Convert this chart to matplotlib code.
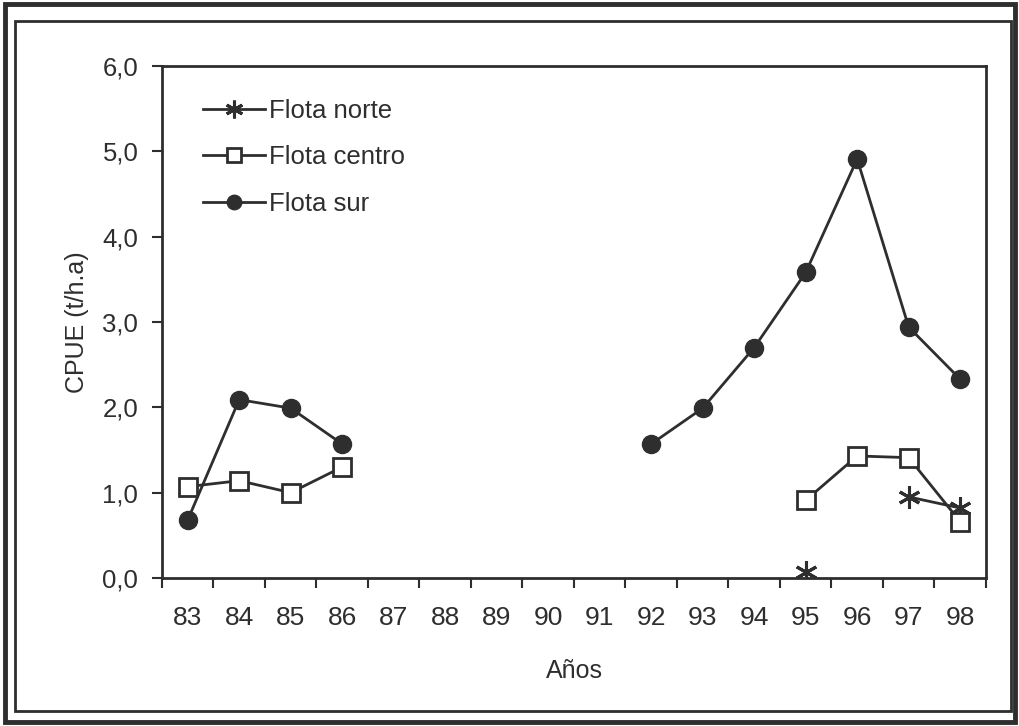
import numpy as np
import matplotlib.pyplot as plt
from matplotlib.patches import Rectangle

# Data (NaN = no data)
years = ['83', '84', '85', '86', '87', '88', '89', '90', '91', '92', '93', '94', '95', '96', '97', '98']
flota_norte = [np.nan] * 12 + [0.07, np.nan, 0.95, 0.82]
flota_centro = [1.07, 1.14, 1.00, 1.30] + [np.nan] * 8 + [0.91, 1.43, 1.41, 0.66]
flota_sur = [0.68, 2.09, 1.99, 1.57] + [np.nan] * 5 + [1.57, 1.99, 2.70, 3.58, 4.91, 2.94, 2.33]

ink = '#2e2e2e'
plt.rcParams['font.family'] = ['Liberation Sans', 'DejaVu Sans']

fig = plt.figure(figsize=(10.2, 7.26), dpi=100)
ax = fig.add_axes([0.1588, 0.2039, 0.8078, 0.7052])

x = np.arange(len(years))
ax.plot(x, flota_norte, color=ink, linewidth=2, marker=(6, 2, 0), markersize=16,
        markeredgewidth=2.2, label='Flota norte')
ax.plot(x, flota_centro, color=ink, linewidth=2, marker='s', markersize=12.5,
        markerfacecolor='white', markeredgecolor=ink, markeredgewidth=2, label='Flota centro')
ax.plot(x, flota_sur, color=ink, linewidth=2, marker='o', markersize=13,
        markerfacecolor=ink, markeredgecolor=ink, label='Flota sur')

ax.set_xlim(-0.5, len(years) - 0.5)
ax.set_ylim(0, 6)
ax.set_xticks(x)
ax.set_xticklabels(years)
ax.set_xticks(np.arange(-0.5, len(years), 1.0), minor=True)
ax.tick_params(axis='x', which='major', length=0, pad=20, labelsize=19, labelcolor=ink)
ax.tick_params(axis='x', which='minor', length=7, width=1.5, color=ink)
ax.set_yticks(np.arange(0, 7, 1))
ax.set_yticklabels([f'{v:.1f}'.replace('.', ',') for v in np.arange(0, 7, 1)])
ax.tick_params(axis='y', length=7, width=1.5, color=ink, pad=10, labelsize=18.5, labelcolor=ink)

for s in ax.spines.values():
    s.set_color(ink)
    s.set_linewidth(2)

ax.set_ylabel('CPUE (t/h.a)', fontsize=18, color=ink, labelpad=10)
ax.set_xlabel('Años', fontsize=18, color=ink, labelpad=21)

ax.legend(loc='upper left', bbox_to_anchor=(0.022, 0.98), frameon=False, fontsize=18.5,
          handlelength=2.4, handletextpad=0.15, labelspacing=0.86, labelcolor=ink,
          markerscale=0.8)

# Scanned double frame around the figure
W, H = 1020, 726
fig.add_artist(Rectangle((5 / W, 4 / H), 1010 / W, 718 / H, transform=fig.transFigure,
                         fill=False, edgecolor=ink, linewidth=3.5))
fig.add_artist(Rectangle((15 / W, 15 / H), 996 / W, 690 / H, transform=fig.transFigure,
                         fill=False, edgecolor=ink, linewidth=2))

plt.savefig('out.png', dpi=100)
